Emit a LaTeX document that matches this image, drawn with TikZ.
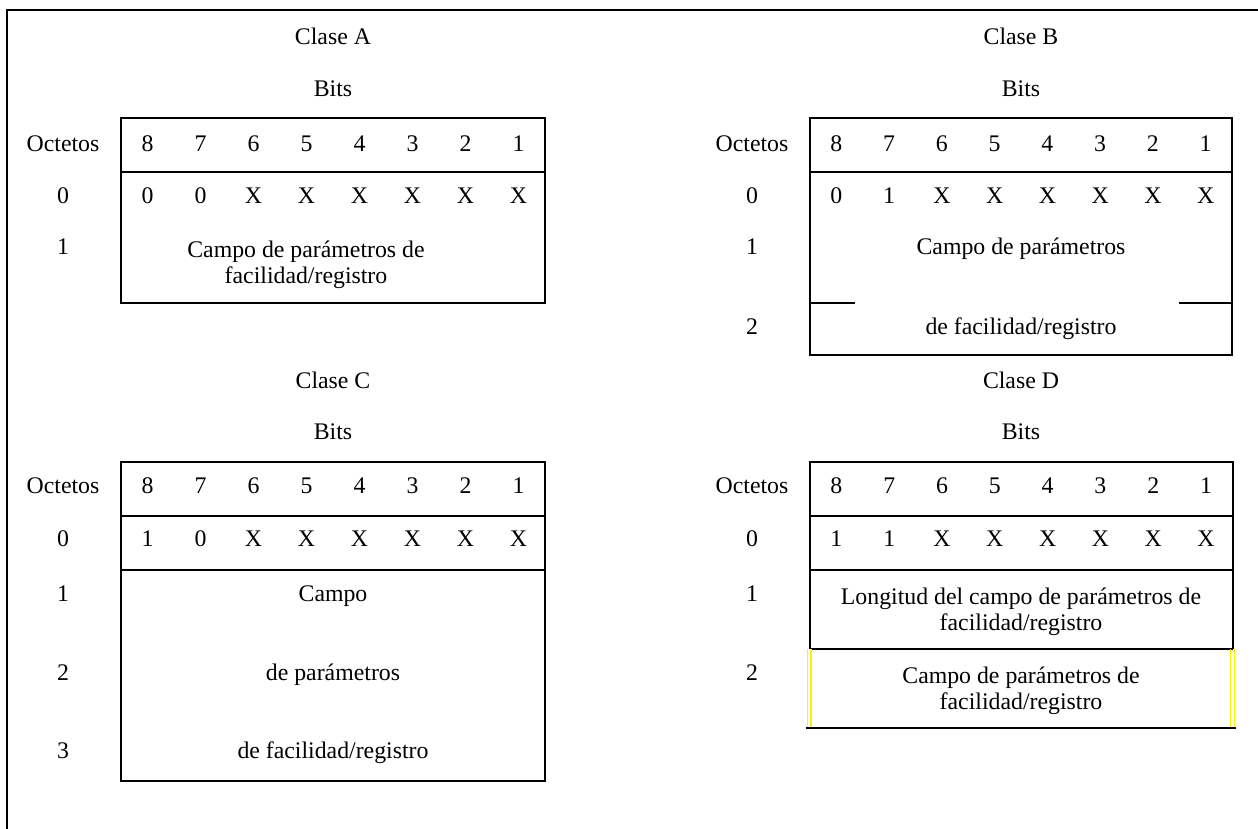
\documentclass[tikz,border=0pt]{standalone}
\usepackage{fontspec}
\setmainfont{Liberation Serif}
\begin{document}
\begin{tikzpicture}
  [x=1pt,y=-1pt,line width=1.8pt,
   every node/.style={font=\fontsize{23.8}{26}\selectfont, inner sep=0pt,
     text height=.68em, text depth=.22em},
   field/.style={align=center, text height={}, text depth={}},
   hilite/.style={draw=yellow, line width=1.3pt}]
  \useasboundingbox (0,0) rectangle (1258,829);
  \draw[line width=2pt] (1258,10) -- (7.3,10) -- (7.3,829);

  % Clase A
  \node (tA) at (333,42) {Clase A};
  \node (bA) at (333,94) {Bits};
  \node (oA) at (63,149) {Octetos};
  \node (oA0) at (63,201) {0};
  \node (oA1) at (63,252) {1};
  \draw (121,118) rectangle (545,303);
  \draw (121,172) -- (545,172);
  \foreach \b [count=\i] in {8,7,...,1}
    \node (bA\i) at ({121+53*(\i-.5)},149) {\b};
  \foreach \v [count=\i] in {0,0,X,X,X,X,X,X}
    \node (vA\i) at ({121+53*(\i-.5)},201) {\v};
  \node[field] (fA1) at (306,265) {Campo de parámetros de\\facilidad/registro};

  % Clase B
  \node (tB) at (1021,42) {Clase B};
  \node (bB) at (1021,94) {Bits};
  \node (oB) at (752,149) {Octetos};
  \node (oB0) at (752,201) {0};
  \node (oB1) at (752,252) {1};
  \node (oB2) at (752,332) {2};
  \draw (810,118) rectangle (1232,355);
  \draw (810,172) -- (1232,172);
  \draw (810,303) -- (855,303);
  \draw (1179,303) -- (1232,303);
  \foreach \b [count=\i] in {8,7,...,1}
    \node (bB\i) at ({810+52.75*(\i-.5)},149) {\b};
  \foreach \v [count=\i] in {0,1,X,X,X,X,X,X}
    \node (vB\i) at ({810+52.75*(\i-.5)},201) {\v};
  \node (fB1) at (1021,252) {Campo de parámetros};
  \node (fB2) at (1021,332) {de facilidad/registro};

  % Clase C
  \node (tC) at (333,386) {Clase C};
  \node (bC) at (333,437) {Bits};
  \node (oC) at (63,491) {Octetos};
  \node (oC0) at (63,544) {0};
  \node (oC1) at (63,599) {1};
  \node (oC2) at (63,678) {2};
  \node (oC3) at (63,756) {3};
  \draw (121,462) rectangle (545,781);
  \draw (121,516) -- (545,516);
  \draw (121,570) -- (545,570);
  \foreach \b [count=\i] in {8,7,...,1}
    \node (bC\i) at ({121+53*(\i-.5)},491) {\b};
  \foreach \v [count=\i] in {1,0,X,X,X,X,X,X}
    \node (vC\i) at ({121+53*(\i-.5)},544) {\v};
  \node (fC1) at (333,599) {Campo};
  \node (fC2) at (333,678) {de parámetros};
  \node (fC3) at (333,756) {de facilidad/registro};

  % Clase D
  \node (tD) at (1021,386) {Clase D};
  \node (bD) at (1021,437) {Bits};
  \node (oD) at (752,491) {Octetos};
  \node (oD0) at (752,544) {0};
  \node (oD1) at (752,599) {1};
  \node (oD2) at (752,678) {2};
  \draw (810,649) -- (810,462) -- (1232.6,462) -- (1232.6,649);
  \draw (810,516) -- (1232.6,516);
  \draw (810,570) -- (1232.6,570);
  \draw (810,649) -- (1232.6,649);
  \draw (806,728) -- (1236,728);
  \draw[hilite] (807.3,649) -- (807.3,727) (811,649) -- (811,727);
  \draw[hilite] (1230.3,649) -- (1230.3,727) (1234.3,649) -- (1234.3,727);
  \foreach \b [count=\i] in {8,7,...,1}
    \node (bD\i) at ({810+52.8*(\i-.5)},491) {\b};
  \foreach \v [count=\i] in {1,1,X,X,X,X,X,X}
    \node (vD\i) at ({810+52.8*(\i-.5)},544) {\v};
  \node[field] (fD1) at (1021,612) {Longitud del campo de parámetros de\\facilidad/registro};
  \node[field] (fD2) at (1021,691) {Campo de parámetros de\\facilidad/registro};
\end{tikzpicture}
\end{document}
